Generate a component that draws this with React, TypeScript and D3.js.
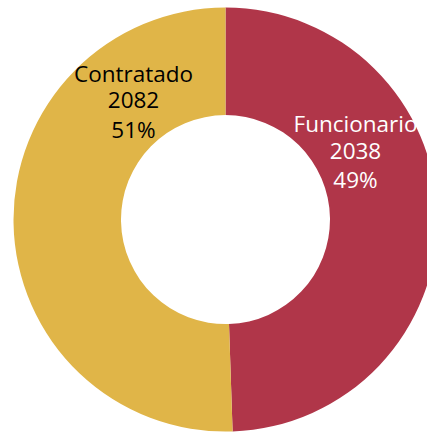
import React from "react";
import * as d3 from "d3";

const categories = ["Funcionario", "Contratado"];
const values = [2038, 2082];
const percentLabels = ["49%", "51%"];
const colors = ["#B03649", "#E0B548"];
const labelColors = ["#FFFFFF", "#000000"];

const W = 427;
const H = 432;
const cx = 225.5;
const cy = 219.6;
const R = 212;
const r = 104.5;
// label anchor offsets relative to chart center (first baseline)
const labelOffsets = [
  { dx: 130, dy: -87.5 },
  { dx: -92, dy: -138 },
];
const lineDy = [0, 26.5, 56];

export default function App() {
  const data = categories.map((c, i) => ({ c, v: values[i], p: percentLabels[i], i }));
  const pie = d3.pie<any>().value((d) => d.v).sort(null);
  const arcs = pie(data);
  const arc = d3.arc<any>().innerRadius(r).outerRadius(R);
  return (
    <svg
      width={W}
      height={H}
      style={{ position: "absolute", left: 0, top: 0, overflow: "hidden" }}
    >
      <rect width={W} height={H} fill="#fff" />
      <g transform={`translate(${cx},${cy})`}>
        {arcs.map((a, i) => (
          <path key={i} d={arc(a) as string} fill={colors[i]} />
        ))}
        {arcs.map((a, i) => {
          const o = labelOffsets[i];
          const lines = [a.data.c, String(a.data.v), a.data.p];
          return (
            <g key={"t" + i}>
              {lines.map((l, j) => (
                <text
                  key={j}
                  x={o.dx}
                  y={o.dy + lineDy[j]}
                  textAnchor="middle"
                  fontFamily="'Open Sans', sans-serif"
                  fontSize={22.5}
                  fill={labelColors[i]}
                >
                  {l}
                </text>
              ))}
            </g>
          );
        })}
      </g>
    </svg>
  );
}
